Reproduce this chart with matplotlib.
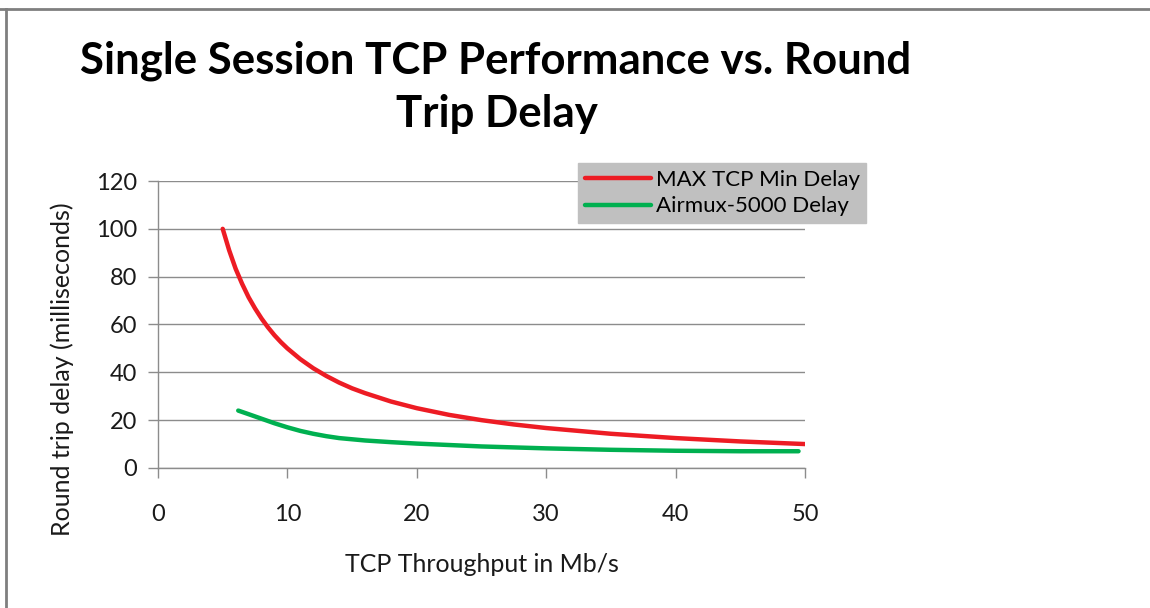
#!/usr/bin/env python3
"""Single session TCP performance vs round trip delay (Excel style line chart)."""
import matplotlib
matplotlib.use("Agg")
import matplotlib.pyplot as plt
from matplotlib.lines import Line2D

# values
max_tcp_x = [5, 5.5, 6, 6.5, 7, 7.5, 8, 8.5, 9, 9.5, 10, 11, 12, 13, 14, 15, 16,
             18, 20, 22.5, 25, 27.5, 30, 35, 40, 45, 50]
max_tcp_y = [100, 91, 83.3, 77, 71.4, 66.7, 62.5, 58.8, 55.5, 52.6, 50, 45.5,
             41.7, 38.5, 35.7, 33.3, 31.3, 27.8, 25, 22.2, 20, 18.2, 16.7, 14.3,
             12.5, 11.1, 10]
airmux_x = [6.2, 7, 8, 9, 10, 11, 12, 13, 14, 16, 18, 20, 25, 30, 35, 40, 45, 49.5]
airmux_y = [24, 22.5, 20.6, 18.7, 17, 15.5, 14.3, 13.3, 12.5, 11.5, 10.8, 10.2,
            9, 8.2, 7.6, 7.2, 7.0, 7.0]

x_ticks = [0, 10, 20, 30, 40, 50]
y_ticks = [0, 20, 40, 60, 80, 100, 120]

plt.rcParams['font.family'] = ['Lato', 'DejaVu Sans']

fig = plt.figure(figsize=(11.5, 6.08), dpi=100)
ax = fig.add_axes([0.1374, 0.2303, 0.5626, 0.472])

ax.plot(max_tcp_x, max_tcp_y, color='#ed1c24', lw=3.2, solid_capstyle='round',
        solid_joinstyle='round', label='MAX TCP Min Delay')
ax.plot(airmux_x, airmux_y, color='#00b050', lw=3.2, solid_capstyle='round',
        solid_joinstyle='round', label='Airmux-5000 Delay')

ax.set_xlim(0, 50)
ax.set_ylim(0, 120)
ax.set_xticks(x_ticks)
ax.set_yticks(y_ticks)
ax.yaxis.grid(True, color='#8c8c8c', lw=1)
ax.set_axisbelow(True)
for s in ['top', 'right']:
    ax.spines[s].set_visible(False)
for s in ['left', 'bottom']:
    ax.spines[s].set_color('#8c8c8c')
    ax.spines[s].set_linewidth(1)
ax.tick_params(axis='both', colors='#8c8c8c', labelcolor='#1a1a1a',
               labelsize=17, length=7, width=1, direction='out')
ax.tick_params(axis='x', pad=19)
ax.tick_params(axis='y', pad=8)

ax.set_xlabel('TCP Throughput in Mb/s', fontsize=18, color='#1a1a1a')
ax.set_ylabel('Round trip delay (milliseconds)', fontsize=18, color='#1a1a1a')
ax.xaxis.set_label_coords(0.5, -0.338)
ax.yaxis.set_label_coords(-0.148, 0.345)
ax.xaxis.label.set_va('center')
ax.yaxis.label.set_va('center')

fig.text(0.431, 0.900, 'Single Session TCP Performance vs. Round', fontsize=31.5,
         fontweight='bold', ha='center', va='center')
fig.text(0.432, 0.812, 'Trip Delay', fontsize=31.5, fontweight='bold',
         ha='center', va='center')

leg = fig.legend(loc='upper left', bbox_to_anchor=(578 / 1150, 1 - 163 / 608),
                 fontsize=16, frameon=True, fancybox=False, handlelength=3.0,
                 handletextpad=0.2, borderpad=0.3, labelspacing=0.3,
                 borderaxespad=0)
leg.get_frame().set_facecolor('#c0c0c0')
leg.get_frame().set_edgecolor('#c0c0c0')
leg.get_frame().set_alpha(1)

# chart area border (only top and left edges are visible in the original)
fig.add_artist(Line2D([0, 1], [1 - 9 / 608, 1 - 9 / 608], transform=fig.transFigure,
                      color='#7f7f7f', lw=2))
fig.add_artist(Line2D([6 / 1150, 6 / 1150], [0, 1 - 9 / 608], transform=fig.transFigure,
                      color='#7f7f7f', lw=2))

plt.savefig('out.png', dpi=100)
